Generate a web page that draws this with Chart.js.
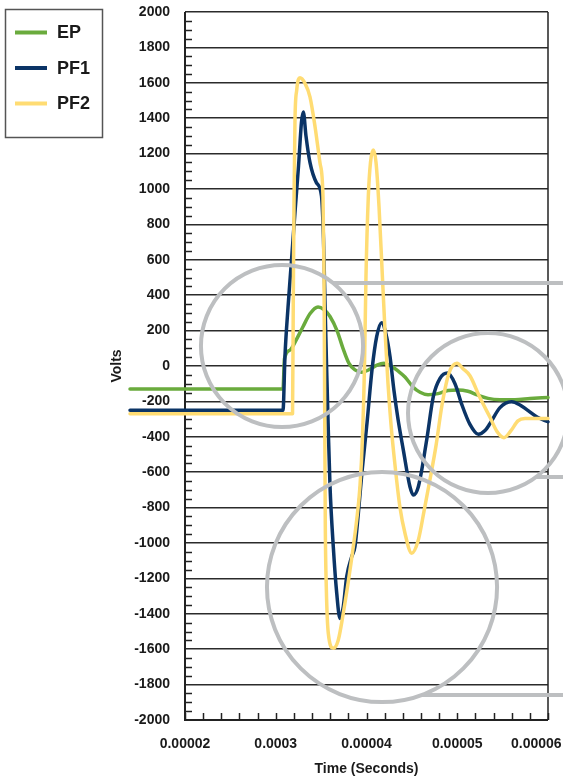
<!DOCTYPE html>
<html><head><meta charset="utf-8">
<script src="https://cdn.jsdelivr.net/npm/chart.js@4.4.0/dist/chart.umd.min.js"></script>
<style>html,body{margin:0;padding:0;background:#fff}#wrap{width:563px;height:780px;position:relative}</style>
</head><body><div id="wrap"><canvas id="c" width="563" height="780"></canvas></div>
<script>
// ---- data (time in microseconds, voltage in volts) ----
const seriesNames = ['EP', 'PF1', 'PF2'];

const epTime  = [13.94, 30.80, 30.96, 31.57, 32.23, 33.00, 33.77, 34.66, 35.32, 35.98, 36.75, 37.41, 38.07, 38.73, 39.50, 40.39, 41.16, 41.93, 42.70, 43.47, 44.24, 45.12, 45.90, 46.78, 47.88, 48.98, 50.08, 51.18, 52.29, 53.39, 54.71, 56.36, 58.02, 60.00];
const epVolts = [-130, -130, 40, 90, 145, 222, 295, 333, 318, 280, 200, 100, 15, -22, -35, -18, 5, 15, 0, -28, -62, -118, -148, -162, -156, -138, -135, -143, -165, -183, -190, -190, -184, -178];

const pf1Time  = [13.94, 30.80, 31.02, 31.35, 31.74, 32.12, 32.51, 32.84, 33.04, 33.33, 33.77, 34.49, 35.04, 35.26, 35.43, 35.61, 35.79, 35.98, 36.34, 36.72, 37.08, 37.44, 37.82, 38.37, 38.73, 39.10, 39.50, 40.06, 40.61, 41.12, 41.67, 42.15, 42.59, 43.03, 43.47, 44.06, 44.79, 45.16, 45.71, 46.63, 47.36, 48.10, 48.93, 49.75, 50.52, 51.40, 52.32, 53.06, 53.61, 54.71, 56.00, 56.91, 57.69, 58.79, 60.00];
const pf1Volts = [-250, -250, 60, 330, 600, 870, 1130, 1380, 1435, 1300, 1150, 1035, 960, 720, 350, -20, -360, -680, -1020, -1284, -1426, -1360, -1190, -1077, -1020, -832, -600, -320, -20, 166, 245, 180, 53, -140, -300, -475, -682, -729, -682, -418, -173, -70, -40, -100, -220, -330, -386, -365, -325, -235, -202, -220, -248, -288, -315];

const pf2Time  = [13.94, 31.85, 31.93, 32.01, 32.12, 32.31, 32.67, 33.22, 33.77, 34.33, 34.88, 35.21, 35.32, 35.39, 35.46, 35.57, 35.79, 36.34, 36.89, 37.44, 38.18, 38.92, 39.28, 39.56, 39.78, 39.94, 40.20, 40.44, 40.75, 41.05, 41.38, 41.71, 42.04, 42.37, 42.70, 43.14, 43.69, 44.24, 44.98, 45.71, 46.34, 47.00, 47.66, 48.32, 49.09, 49.97, 50.63, 51.40, 52.51, 53.61, 54.38, 55.15, 55.92, 56.69, 57.47, 60.00];
const pf2Volts = [-270, -270, 354, 919, 1390, 1559, 1628, 1597, 1521, 1352, 1145, 950, 500, -200, -900, -1250, -1510, -1595, -1548, -1397, -1153, -870, -680, -400, 0, 500, 957, 1150, 1220, 1150, 900, 550, 200, -100, -330, -560, -800, -945, -1058, -983, -820, -640, -450, -220, -40, 15, -15, -55, -180, -290, -370, -405, -365, -310, -297, -296];

const xTickValues = [20, 30, 40, 50, 60];
const xTickLabels = ['0.00002', '0.0003', '0.00004', '0.00005', '0.00006'];

// callout annotations (centre time, centre volts, radius in volts, leader-line volts)
const calloutTime   = [30.69, 53.39, 41.71];
const calloutVolts  = [113, -266, -1249];
const calloutRadius = [458, 452, 650];
const leaderVolts   = [469, -627, -1859];

// ---- styling ----
const FONT = '"Liberation Sans", Arial, Helvetica, sans-serif';
const colors = ['#6aab3d', '#0b3466', '#ffdc73'];
const INK = '#1a1a1a';
const GRAY = '#bdbfc1';

function pts(t, v) { return t.map((x, i) => ({ x: x, y: v[i] })); }
const seriesData = [pts(epTime, epVolts), pts(pf1Time, pf1Volts), pts(pf2Time, pf2Volts)];

const datasets = seriesNames.map((name, i) => ({
  label: name,
  data: seriesData[i],
  borderColor: colors[i],
  backgroundColor: colors[i],
  borderWidth: 3.5,
  pointRadius: 0,
  fill: false,
  cubicInterpolationMode: 'monotone',
  borderJoinStyle: 'round',
  borderCapStyle: 'round',
  clip: false,
  order: 3 - i
}));

const framePlugin = {
  id: 'frame',
  beforeDatasetsDraw(chart) {
    const { ctx, chartArea: a, scales: { x, y } } = chart;
    ctx.save();
    ctx.strokeStyle = '#222';
    // minor ticks on y axis
    ctx.lineWidth = 1.5;
    for (let v = -2000; v <= 2000; v += 50) {
      if (v % 200 === 0) continue;
      const py = Math.round(y.getPixelForValue(v)) + 0.5;
      ctx.beginPath(); ctx.moveTo(a.left, py); ctx.lineTo(a.left + 7, py); ctx.stroke();
    }
    // minor ticks on x axis
    for (let t = 20; t <= 60; t += 2) {
      const px = Math.round(x.getPixelForValue(t)) + 0.5;
      ctx.beginPath(); ctx.moveTo(px, a.bottom); ctx.lineTo(px, a.bottom - 7); ctx.stroke();
    }
    // frame
    ctx.lineWidth = 2;
    ctx.beginPath();
    ctx.moveTo(a.left, a.top); ctx.lineTo(a.left, a.bottom); ctx.lineTo(a.right, a.bottom);
    ctx.stroke();
    ctx.lineWidth = 1.5;
    ctx.beginPath(); ctx.moveTo(a.right, a.top); ctx.lineTo(a.right, a.bottom); ctx.stroke();
    ctx.restore();
  }
};

const calloutPlugin = {
  id: 'callouts',
  afterDatasetsDraw(chart) {
    const { ctx, scales: { x, y } } = chart;
    ctx.save();
    ctx.strokeStyle = GRAY;
    ctx.lineWidth = 4;
    calloutTime.forEach((t, i) => {
      const cx = x.getPixelForValue(t);
      const cy = y.getPixelForValue(calloutVolts[i]);
      const r = Math.abs(y.getPixelForValue(0) - y.getPixelForValue(calloutRadius[i]));
      ctx.beginPath(); ctx.arc(cx, cy, r, 0, Math.PI * 2); ctx.stroke();
      const ly = y.getPixelForValue(leaderVolts[i]);
      const dx = Math.sqrt(Math.max(r * r - (ly - cy) * (ly - cy), 0));
      ctx.beginPath(); ctx.moveTo(cx + dx, ly); ctx.lineTo(chart.width, ly); ctx.stroke();
    });
    ctx.restore();
  }
};

const legendPlugin = {
  id: 'boxLegend',
  afterDraw(chart) {
    const { ctx } = chart;
    ctx.save();
    ctx.strokeStyle = '#555';
    ctx.lineWidth = 1.5;
    ctx.strokeRect(5.5, 9.5, 97, 128);
    ctx.font = 'bold 18px ' + FONT;
    ctx.textBaseline = 'middle';
    ctx.textAlign = 'left';
    chart.data.datasets.forEach((ds, i) => {
      const yy = 32.5 + i * 35.5;
      ctx.strokeStyle = ds.borderColor;
      ctx.lineWidth = 4;
      ctx.beginPath(); ctx.moveTo(15, yy); ctx.lineTo(47, yy); ctx.stroke();
      ctx.fillStyle = INK;
      ctx.fillText(ds.label, 57, yy + 1);
    });
    ctx.restore();
  }
};

new Chart(document.getElementById('c'), {
  type: 'line',
  data: { datasets },
  options: {
    responsive: false,
    animation: false,
    devicePixelRatio: 1,
    layout: { padding: { left: 105, right: 15, top: 12, bottom: 0 } },
    plugins: { legend: { display: false }, tooltip: { enabled: false } },
    scales: {
      x: {
        type: 'linear',
        min: 20, max: 60,
        afterBuildTicks: s => { s.ticks = xTickValues.map(v => ({ value: v })); },
        afterFit: s => { s.height = 60; s.paddingLeft = 0; s.paddingRight = 0; },
        ticks: {
          autoSkip: false, maxRotation: 0, padding: 16, color: INK,
          font: { family: FONT, size: 14, weight: 'bold' },
          callback: (v, i) => {
            const k = xTickValues.indexOf(v);
            const lab = k >= 0 ? xTickLabels[k] : '';
            return k === xTickValues.length - 1 ? lab + '\u2007\u2007\u2007' : lab;
          }
        },
        grid: { display: false, drawTicks: false },
        border: { display: false },
        title: { display: true, text: 'Time (Seconds)', color: INK, font: { family: FONT, size: 14, weight: 'bold' }, padding: { top: 0, bottom: 2 } }
      },
      y: {
        type: 'linear',
        min: -2000, max: 2000,
        afterFit: s => { s.width = 80; s.paddingTop = 0; s.paddingBottom = 0; },
        ticks: {
          stepSize: 200, padding: 15, color: INK,
          font: { family: FONT, size: 14, weight: 'bold' },
          callback: v => String(v)
        },
        grid: { color: '#2b2b2b', lineWidth: 1.5, drawTicks: false },
        border: { display: false },
        title: { display: true, text: 'Volts', color: INK, font: { family: FONT, size: 14, weight: 'bold' }, padding: { top: 4, bottom: 4 } }
      }
    }
  },
  plugins: [framePlugin, calloutPlugin, legendPlugin]
});
</script>
</body></html>
